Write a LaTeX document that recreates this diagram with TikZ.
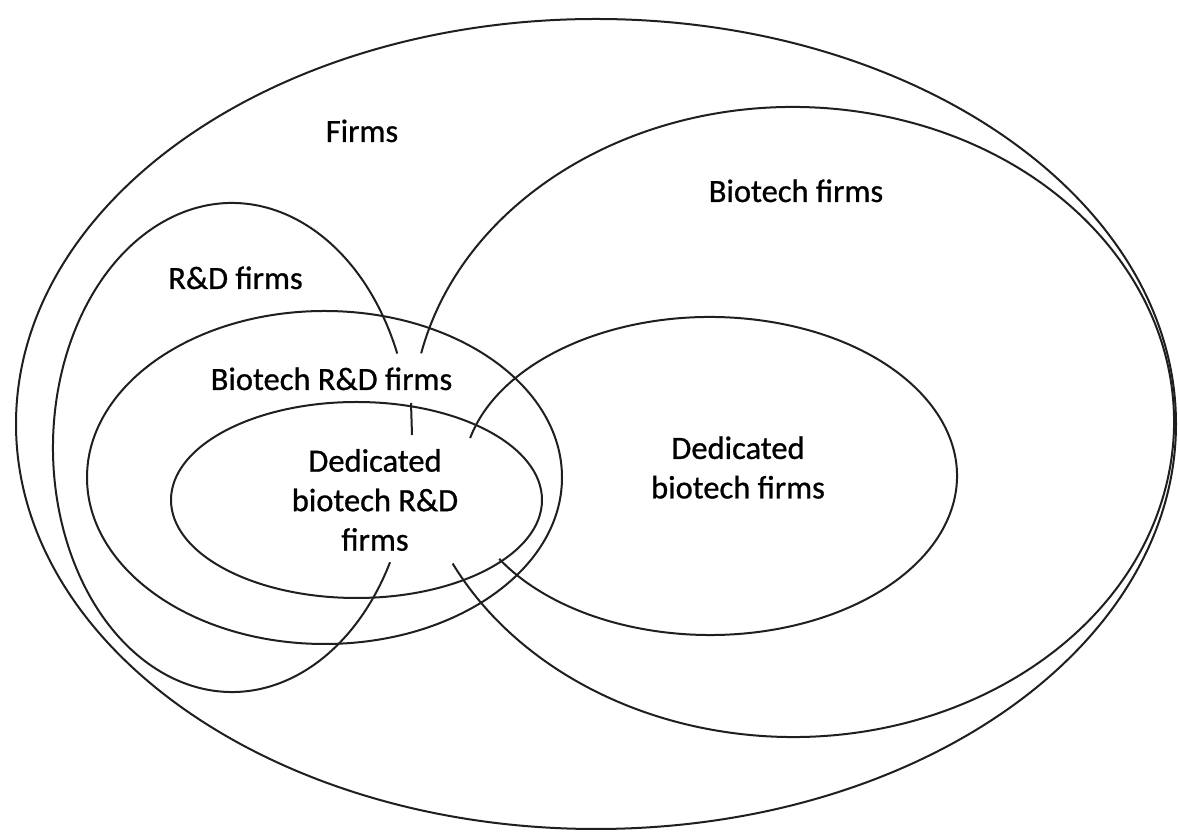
\documentclass[tikz,border=0pt]{standalone}
\usepackage{fontspec}
\setmainfont{Carlito}[FakeBold=0.8]
\begin{document}
\begin{tikzpicture}[x=1pt,y=1pt,
  setline/.style={line width=2pt, draw=black!88},
  lbl/.style={inner sep=0pt, font=\fontsize{32.5}{39.5}\selectfont, text=black},
  mlbl/.style={lbl, align=center}]
\useasboundingbox (0,0) rectangle (1178,832);
\fill[white] (0,0) rectangle (1178,832);
% Firms (outer)
\draw[setline] (596,408) ellipse[x radius=580pt, y radius=405pt];
% Biotech firms (open arc)
\draw[setline] ([shift={(167.4:381pt and 315pt)}]793,410)
  arc[start angle=167.4, end angle=-153.3, x radius=381pt, y radius=315pt];
% R&D firms (open arc)
\draw[setline] ([shift={(22.6:179pt and 244.5pt)}]232,384.5)
  arc[start angle=22.6, end angle=332, x radius=179pt, y radius=244.5pt];
% Biotech R&D firms
\draw[setline] (324.5,354.5) ellipse[x radius=237.5pt, y radius=166.5pt];
% Dedicated biotech R&D firms
\draw[setline] (356.5,332) ellipse[x radius=185.5pt, y radius=98pt];
% Dedicated biotech firms (open arc)
\draw[setline] ([shift={(166.2:247pt and 159pt)}]710,356)
  arc[start angle=166.2, end angle=-148.6, x radius=247pt, y radius=159pt];
% short stub
\coordinate (stubtop) at (411,429);
\coordinate (stubbot) at (412,397);
\draw[setline] (stubtop) -- (stubbot);
% labels
\node[lbl, anchor=base] (firms) at (362,690) {Firms};
\node[lbl, anchor=base] (biotech) at (796,630) {Biotech firms};
\node[lbl, anchor=base] (rd) at (235.5,543) {R\&D firms};
\node[lbl, anchor=base] (biord) at (331.5,442) {Biotech R\&D firms};
\node[mlbl] (dedbiord) at (375,332) {Dedicated\\biotech R\&D\\firms};
\node[mlbl] (dedbio) at (738,364.5) {Dedicated\\biotech firms};
\end{tikzpicture}
\end{document}
